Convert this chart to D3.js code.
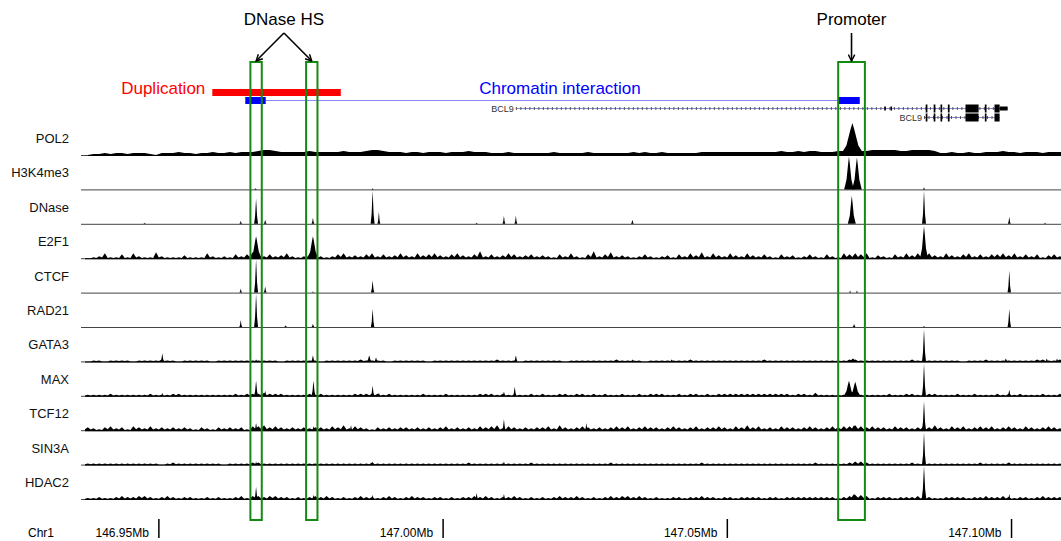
<!DOCTYPE html>
<html>
<head>
<meta charset="utf-8">
<script src="https://cdn.jsdelivr.net/npm/d3@7"></script>
<style>
  body { margin: 0; background: #fff; }
  svg { display: block; font-family: "Liberation Sans", Arial, sans-serif; }
</style>
</head>
<body>
<div class="chart"></div>
<script>
let width = 1061, height = 541;

// genomic window (Mb)
const region = [146.9363, 147.1087];
const tickValues = [146.95, 147.00, 147.05, 147.10];
const tickLabels = ["146.95Mb", "147.00Mb", "147.05Mb", "147.10Mb"];

const trackNames = ["POL2", "H3K4me3", "DNase", "E2F1", "CTCF", "RAD21", "GATA3", "MAX", "TCF12", "SIN3A", "HDAC2"];

// background signal, 1kb bins starting at binStart
const binStart = 146.937, binSize = 0.001;

const pol2Bg = [0,1,1,2,1,2,2,1,2,2, 2,1,0,2,2,2,3,2,2,1, 2,2,3,2,2,3,2,3,3,3, 4,5,5,4,3,3,3,3,3,4,
  3,3,3,3,3,4,3,3,3,4, 5,5,4,3,3,3,2,3,3,2, 3,3,3,2,3,3,3,4,3,3, 3,2,2,2,3,2,2,2,2,2,
  2,2,3,2,2,2,2,2,3,2, 2,2,2,2,2,2,3,2,3,2, 2,3,2,2,2,2,2,2,3,3, 3,3,3,3,3,3,3,3,3,3,
  3,3,4,3,3,4,3,4,4,3, 3,3,4,4,4,4,4,4,5,5, 5,5,5,4,4,5,5,5,5,4, 2,2,3,2,2,3,2,2,3,3,
  3,4,3,3,2,3,3,3,2,3, 3,3,3,3];
const e2f1Bg = [0,1,2,5,1,1,4,1,5,2, 1,1,6,2,1,1,1,3,1,1, 1,5,2,1,2,1,4,2,4,6, 5,2,4,2,3,5,2,1,2,4,
  5,2,1,2,4,5,2,3,2,4, 5,2,4,2,3,5,3,2,5,3, 4,5,3,2,4,5,3,2,4,7, 2,4,2,3,5,4,2,3,4,2,
  3,2,1,4,2,5,2,1,4,7, 2,4,6,2,3,2,1,2,4,2, 1,2,3,1,4,2,5,3,6,2, 5,3,2,5,3,2,5,3,2,4,
  2,1,4,2,3,1,2,4,2,1, 4,2,1,5,4,5,4,5,1,3, 2,1,4,2,5,3,5,6,5,3, 2,5,3,2,4,5,2,4,2,4,
  4,5,3,5,2,4,2,4,1,3, 4,2,4,3];
const gata3Bg = [0,1,1,0,1,1,1,1,0,1, 1,1,1,2,1,1,0,1,1,1, 1,1,0,1,1,1,1,1,1,1, 1,1,1,1,0,1,1,1,1,1,
  1,0,1,1,1,1,1,1,2,1, 1,1,1,0,1,1,1,1,1,1, 0,1,1,1,1,1,1,1,1,1, 1,1,2,1,1,1,0,1,1,1,
  1,1,1,1,0,1,1,1,1,1, 1,1,1,2,1,1,1,1,0,1, 1,1,1,1,1,1,2,1,1,1, 1,1,1,1,1,1,1,1,1,2,
  1,1,1,1,1,1,1,1,1,1, 1,1,1,1,2,2,1,1,1,1, 1,1,1,1,1,2,1,1,1,1, 1,1,1,1,0,1,1,1,2,1,
  1,1,1,1,1,1,1,2,2,1, 1,2,1,1];
const maxBg = [1,1,1,1,2,1,1,1,1,1, 1,2,1,1,1,2,2,1,1,1, 1,1,1,1,1,1,2,1,2,2, 2,3,2,2,2,1,1,1,1,2,
  1,2,1,1,1,1,1,2,2,2, 2,2,1,2,1,1,1,1,1,2, 1,1,1,2,1,1,1,1,1,2, 2,2,1,2,1,1,1,1,2,1,
  2,1,1,2,2,1,2,2,1,2, 1,2,1,1,2,1,1,2,1,2, 2,2,1,1,2,1,2,2,1,2, 1,2,2,2,2,2,2,2,2,2,
  2,2,2,2,1,2,2,1,3,1, 1,1,1,1,2,2,1,1,1,1, 1,2,1,1,2,2,1,1,2,2, 1,1,1,2,1,1,2,1,1,1,
  2,1,2,1,2,1,1,1,2,1, 1,2,1,1];
const tcf12Bg = [3,2,1,3,4,2,3,1,4,3, 2,4,2,3,2,3,2,3,2,1, 3,2,1,3,2,3,2,3,1,4, 4,5,3,4,3,2,3,2,3,2,
  3,3,2,4,3,5,2,4,3,2, 1,3,2,3,2,3,3,2,3,2, 3,2,3,4,2,3,2,3,2,4, 3,4,5,2,4,3,2,3,2,3,
  3,4,2,5,3,2,3,4,3,2, 3,2,3,4,3,4,2,3,4,3, 3,2,3,4,3,2,3,4,2,3, 3,4,3,2,4,3,5,3,4,2,
  3,2,4,3,3,2,3,4,3,2, 3,4,3,4,4,5,4,3,4,3, 3,2,4,3,3,2,3,4,3,5, 3,2,4,3,4,2,3,4,3,4,
  2,3,4,3,2,4,3,2,3,4, 3,2,4,3];
const sin3aBg = [1,1,1,1,1,1,1,1,1,1, 1,1,1,0,1,2,1,1,1,1, 1,1,1,1,0,1,1,1,1,2, 2,1,1,1,1,1,1,1,1,1,
  1,1,1,1,1,1,1,1,1,1, 2,1,1,1,1,1,1,1,1,1, 1,1,1,1,1,1,1,2,1,1, 1,1,1,1,1,1,1,1,2,1,
  1,1,1,1,1,1,1,1,1,1, 1,1,2,1,1,1,1,1,1,1, 1,1,1,1,1,1,1,1,2,1, 1,1,1,1,1,1,1,1,1,1,
  1,1,1,1,1,1,1,1,2,1, 1,1,1,1,2,3,3,2,1,1, 1,1,1,1,1,2,1,1,1,1, 1,1,1,1,1,1,1,2,1,1,
  1,1,2,1,1,1,1,1,1,1, 1,1,1,1];
const hdac2Bg = [1,1,2,1,1,2,3,2,2,3, 3,2,1,2,3,2,1,2,2,1, 1,2,1,2,1,1,2,3,1,3, 3,2,3,3,2,2,1,2,1,2,
  3,2,3,2,1,2,1,2,3,2, 2,1,2,3,2,1,2,3,2,2, 1,2,2,1,2,1,2,2,3,2, 3,2,1,2,2,3,2,1,2,1,
  2,1,2,3,2,2,3,2,1,2, 1,2,3,2,3,3,2,3,2,1, 2,1,1,2,2,1,2,2,3,2, 2,1,2,2,1,2,2,2,2,1,
  2,2,1,2,2,2,2,2,2,2, 2,2,1,2,3,4,4,3,1,2, 2,2,1,2,2,2,3,2,2,1, 1,2,2,2,2,1,2,2,3,2,
  2,3,2,1,2,2,1,2,3,2, 2,2,1,2];

// peaks: [position Mb, signal, width kb]
const pol2Peaks = [[147.0720, 32, 4.2]];
const h3k4me3Peaks = [[146.9670, 1, 0.5], [146.9876, 1, 0.4], [147.0714, 33, 1.7], [147.0728, 32, 1.7], [147.0846, 2, 0.4]];
const dnasePeaks = [[146.9475, 1, 0.5], [146.9644, 3, 0.5], [146.9671, 25, 0.7], [146.9687, 4, 0.5], [146.9771, 6, 0.5],
  [146.9876, 33, 0.7], [146.9887, 12, 0.5], [147.0059, 1, 0.5], [147.0107, 8, 0.5], [147.0128, 8, 0.5],
  [147.0333, 4, 0.5], [147.0719, 28, 1.4], [147.0846, 33, 0.7], [147.0996, 7, 0.5], [147.1059, 1, 0.5]];
const e2f1Peaks = [[146.9671, 22, 1.9], [146.9771, 22, 1.9], [147.0846, 32, 1.4]];
const ctcfPeaks = [[146.9644, 4, 0.5], [146.9671, 33, 0.7], [146.9687, 6, 0.5], [146.9771, 1, 0.5], [146.9876, 12, 0.6],
  [147.0716, 2, 0.4], [147.0728, 2, 0.4], [147.0996, 22, 0.6]];
const rad21Peaks = [[146.9644, 7, 0.5], [146.9671, 33, 0.7], [146.9723, 1.5, 0.5], [146.9771, 3, 0.5], [146.9876, 18, 0.6],
  [147.0723, 3, 0.5], [147.0846, 1, 0.4], [147.0996, 18, 0.6]];
const gata3Peaks = [[146.9506, 8, 0.6], [146.9671, 2, 0.5], [146.9771, 6, 0.6], [146.9870, 6, 0.8], [146.9882, 4, 0.6],
  [147.0128, 6, 0.6], [147.0333, 2, 0.5], [147.0402, 2, 0.5], [147.0721, 3, 1.5], [147.0846, 32, 0.7],
  [147.0990, 3, 0.6], [147.1062, 3, 0.5], [147.1080, 3, 0.5]];
const maxPeaks = [[146.9506, 3, 0.5], [146.9671, 15, 0.7], [146.9687, 5, 0.5], [146.9772, 15, 0.7], [146.9876, 10, 0.6],
  [146.9887, 3, 0.5], [147.0107, 4, 0.6], [147.0126, 9, 0.6], [147.0714, 15, 1.8], [147.0725, 14, 1.8],
  [147.0846, 32, 0.7], [147.0996, 6, 0.6]];
const tcf12Peaks = [[146.9671, 7, 0.6], [146.9772, 4, 0.5], [146.9838, 5, 0.5], [147.0107, 11, 0.6], [147.0252, 7, 0.5],
  [147.0723, 5, 1.5], [147.0846, 29, 0.7]];
const sin3aPeaks = [[146.9671, 3, 0.5], [146.9772, 1, 0.5], [146.9876, 3, 0.5], [147.0107, 3, 0.5], [147.0846, 32, 0.7],
  [147.0996, 2, 0.5]];
const hdac2Peaks = [[146.9671, 12, 0.6], [146.9772, 4, 0.5], [146.9876, 4, 0.5], [147.0059, 6, 0.5], [147.0107, 5, 0.5],
  [147.0723, 5, 1.8], [147.0846, 33, 0.8], [147.0996, 5, 0.5]];

const trackBg = [pol2Bg, [], [], e2f1Bg, [], [], gata3Bg, maxBg, tcf12Bg, sin3aBg, hdac2Bg];
const trackPeaks = [pol2Peaks, h3k4me3Peaks, dnasePeaks, e2f1Peaks, ctcfPeaks, rad21Peaks, gata3Peaks, maxPeaks, tcf12Peaks, sin3aPeaks, hdac2Peaks];
const signalMax = 33;

// annotations
const dnaseHS = [[146.9661, 146.9681], [146.9759, 146.9779]];
const promoter = [147.0695, 147.0742];
const duplication = [146.9594, 146.9820];
const interaction = [[146.9652, 146.9688], [147.0696, 147.0733]];

// BCL9 transcripts: [start, end], exons [start, end, thick?]
const bcl9Long = {start: 147.0128, end: 147.0993,
  exons: [[147.0776, 147.0778, 0], [147.0787, 147.0789, 0], [147.0849, 147.0852, 1], [147.0863, 147.0866, 1],
          [147.0875, 147.0878, 1], [147.0888, 147.0891, 1], [147.0919, 147.0942, 1], [147.0953, 147.0956, 1],
          [147.0970, 147.0979, 1], [147.0979, 147.0993, 0]]};
const bcl9Short = {start: 147.0846, end: 147.0979,
  exons: [[147.0849, 147.0852, 1], [147.0863, 147.0866, 1], [147.0875, 147.0878, 1], [147.0888, 147.0891, 1],
          [147.0919, 147.0942, 1], [147.0953, 147.0956, 1], [147.0970, 147.0979, 1]]};

const svg = d3.select(".chart").append("svg")
  .attr("width", width).attr("height", height);

let x = d3.scaleLinear().domain(region).range([81, 1061]);
let rowBase = d3.scalePoint().domain(trackNames).range([155, 499]);

// marker for arrows
svg.append("defs").append("marker")
  .attr("id", "arrow").attr("viewBox", "0 0 10 10")
  .attr("refX", 9).attr("refY", 5)
  .attr("markerWidth", 8).attr("markerHeight", 8)
  .attr("markerUnits", "userSpaceOnUse")
  .attr("orient", "auto")
  .append("path").attr("d", "M1,1 L9,5 L1,9")
  .attr("fill", "none").attr("stroke", "#000").attr("stroke-width", 1.8);

// ---- signal tracks
trackNames.forEach((name, k) => {
  const base = rowBase(name);
  const y = d3.scaleLinear().domain([0, signalMax]).range([base, base - signalMax]);
  const g = svg.append("g").attr("class", "track");

  g.append("text")
    .attr("x", 69).attr("y", base - 12)
    .attr("text-anchor", "end")
    .style("font-size", "13px").style("fill", "#111")
    .text(name);

  g.append("line")
    .attr("x1", x(region[0])).attr("x2", x(region[1]))
    .attr("y1", base + 0.5).attr("y2", base + 0.5)
    .attr("stroke", "#444").attr("stroke-width", 1);

  const bg = trackBg[k];
  if (bg.length) {
    // POL2 drawn as a continuous band, the others as a spiky wiggle
    let pts = [];
    bg.forEach((v, i) => {
      if (k > 0) {
        const prev = i > 0 ? bg[i - 1] : v;
        pts.push([binStart + i * binSize, Math.min(prev, v) * 0.3]);
      }
      pts.push([binStart + (i + 0.5) * binSize, v]);
    });
    let area = d3.area()
      .x(d => x(d[0]))
      .y0(base + 1).y1(d => y(d[1]));
    g.append("path").datum(pts)
      .attr("d", area).attr("fill", "#000");
  }

  let peakLine = d3.line().x(d => x(d[0])).y(d => y(d[1]));
  g.selectAll(".peak").data(trackPeaks[k]).enter()
    .append("path").attr("class", "peak")
    .attr("d", p => {
      const w = p[2] / 1000, h = p[1];
      return peakLine([[p[0] - w / 2, 0], [p[0] - w * 0.25, h * 0.3], [p[0] - w * 0.08, h * 0.8], [p[0], h],
                       [p[0] + w * 0.08, h * 0.8], [p[0] + w * 0.25, h * 0.3], [p[0] + w / 2, 0]]) + "Z";
    })
    .attr("fill", "#000");
});

// ---- gene track
function drawTranscript(t, yy) {
  svg.append("line")
    .attr("x1", x(t.start)).attr("x2", x(t.end))
    .attr("y1", yy).attr("y2", yy)
    .attr("stroke", "#8a8ad0").attr("stroke-width", 1);
  svg.append("line")
    .attr("x1", x(t.start)).attr("x2", x(t.end))
    .attr("y1", yy).attr("y2", yy)
    .attr("stroke", "#555").attr("stroke-width", 3)
    .attr("stroke-dasharray", "1,3.5");
  svg.selectAll(null).data(t.exons).enter()
    .append("rect")
    .attr("x", d => x(d[0]))
    .attr("width", d => Math.max(1.6, x(d[1]) - x(d[0])))
    .attr("y", d => d[2] ? yy - 4 : yy - 2)
    .attr("height", d => d[2] ? 8 : 4)
    .attr("fill", "#000");
  svg.append("text")
    .attr("x", x(t.start) - 2).attr("y", yy + 3)
    .attr("text-anchor", "end")
    .style("font-size", "9px").style("fill", "#333")
    .text("BCL9");
}
drawTranscript(bcl9Long, 108.5);
drawTranscript(bcl9Short, 117.5);

// ---- duplication & chromatin interaction
svg.append("rect")
  .attr("x", x(duplication[0])).attr("width", x(duplication[1]) - x(duplication[0]))
  .attr("y", 89).attr("height", 7).attr("fill", "#ff0000");
svg.append("text").attr("x", x(duplication[0]) - 7).attr("y", 94)
  .attr("text-anchor", "end").style("font-size", "17px").style("fill", "#ff0000")
  .text("Duplication");

svg.append("line")
  .attr("x1", x(interaction[0][1])).attr("x2", x(interaction[1][0]))
  .attr("y1", 100.5).attr("y2", 100.5)
  .attr("stroke", "#8888ff").attr("stroke-width", 1.2);
svg.selectAll(".anchor").data(interaction).enter()
  .append("rect").attr("class", "anchor")
  .attr("x", d => x(d[0])).attr("width", d => x(d[1]) - x(d[0]))
  .attr("y", 97).attr("height", 7).attr("fill", "#0000ff");
svg.append("text").attr("x", 560).attr("y", 94)
  .attr("text-anchor", "middle").style("font-size", "17px").style("fill", "#0000ff")
  .text("Chromatin interaction");

// ---- highlight boxes
const boxes = dnaseHS.concat([promoter]);
svg.selectAll(".hl").data(boxes).enter()
  .append("rect").attr("class", "hl")
  .attr("x", d => x(d[0])).attr("width", d => x(d[1]) - x(d[0]))
  .attr("y", 62).attr("height", 458)
  .attr("fill", "none").attr("stroke", "#138a13").attr("stroke-width", 2);

// arrows and labels
const hsCenters = dnaseHS.map(d => x((d[0] + d[1]) / 2));
const apex = (hsCenters[0] + hsCenters[1]) / 2;
hsCenters.forEach(cx => {
  svg.append("line").attr("x1", apex).attr("y1", 33).attr("x2", cx).attr("y2", 61)
    .attr("stroke", "#000").attr("stroke-width", 1.6).attr("marker-end", "url(#arrow)");
});
svg.append("text").attr("x", apex).attr("y", 25)
  .attr("text-anchor", "middle").style("font-size", "17px").text("DNase HS");

const pc = x((promoter[0] + promoter[1]) / 2);
svg.append("line").attr("x1", pc).attr("y1", 33).attr("x2", pc).attr("y2", 61)
  .attr("stroke", "#000").attr("stroke-width", 1.6).attr("marker-end", "url(#arrow)");
svg.append("text").attr("x", pc).attr("y", 25)
  .attr("text-anchor", "middle").style("font-size", "17px").text("Promoter");

// ---- coordinate axis
svg.append("text").attr("x", 28).attr("y", 537).style("font-size", "12px").text("Chr1");
let ticks = svg.selectAll(".tick").data(tickValues).enter().append("g").attr("class", "tick");
ticks.append("line")
  .attr("x1", d => x(d)).attr("x2", d => x(d))
  .attr("y1", 519).attr("y2", 538)
  .attr("stroke", "#000").attr("stroke-width", 1.5);
ticks.append("text")
  .attr("x", d => x(d) - 10).attr("y", 537)
  .attr("text-anchor", "end").style("font-size", "12px")
  .text((d, i) => tickLabels[i]);
</script>
</body>
</html>
